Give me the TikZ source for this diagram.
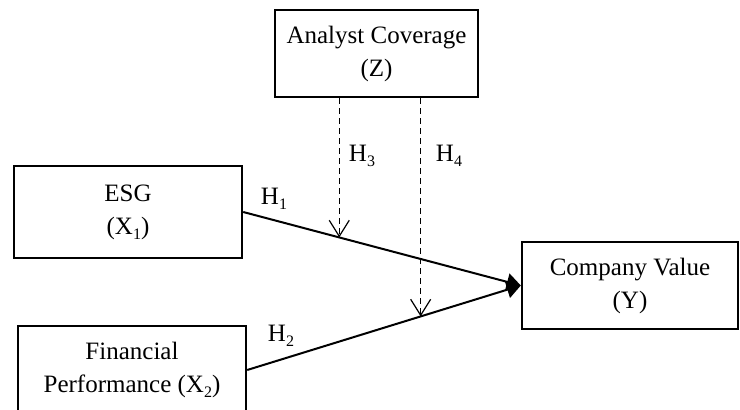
\documentclass[tikz,border=0pt]{standalone}
\usepackage{fontspec}
\setmainfont{Liberation Serif}
\usetikzlibrary{arrows.meta, positioning, calc}

\newcommand{\lowsub}[1]{\raisebox{-0.45ex}{\fontsize{8}{8}\selectfont #1}}

\begin{document}
\begin{tikzpicture}[
    x=0.5pt, y=-0.5pt,
    box/.style={
        rectangle,
        draw,
        line width=1.2pt,
        inner sep=0pt,
        align=center,
        font=\fontsize{12.5}{16.5}\selectfont
    },
    path/.style={-{Triangle[length=7pt,width=8.5pt]}, line width=1pt},
    moderation/.style={-{Straight Barb[length=8pt,width=10pt]}, line width=0.6pt, dash pattern=on 3pt off 2pt},
    hlabel/.style={font=\fontsize{12.5}{15}\selectfont}
]
\useasboundingbox (0,0) rectangle (740,410);

\node[box, minimum width=101.5pt, minimum height=43.5pt] (z) at (376.5,53.5) {Analyst Coverage\\(Z)};
\node[box, minimum width=114pt, minimum height=46pt] (esg) at (128,212) {ESG\\(X\lowsub{1})};
\node[box, minimum width=114pt, minimum height=44pt] (fin) at (132,370) {Financial\\Performance (X\lowsub{2})};
\node[box, minimum width=108pt, minimum height=43.5pt] (cv) at (630,285.5) {Company Value\\(Y)};

\draw[path] (esg.east) -- (cv.west);
\draw[path] (fin.east) -- (cv.west);

% moderating effects of Z
\coordinate (h3end) at ($(esg.east)!0.346!(cv.west)$);
\coordinate (h4end) at ($(fin.east)!0.634!(cv.west)$);
\draw[moderation] (h3end |- z.south) -- (h3end);
\draw[moderation] (h4end |- z.south) -- (h4end);

\node[hlabel] (h1) at (274,199) {H\lowsub{1}};
\node[hlabel] (h2) at (281,336) {H\lowsub{2}};
\node[hlabel] (h3) at (362,156) {H\lowsub{3}};
\node[hlabel] (h4) at (449,156) {H\lowsub{4}};

\end{tikzpicture}
\end{document}
